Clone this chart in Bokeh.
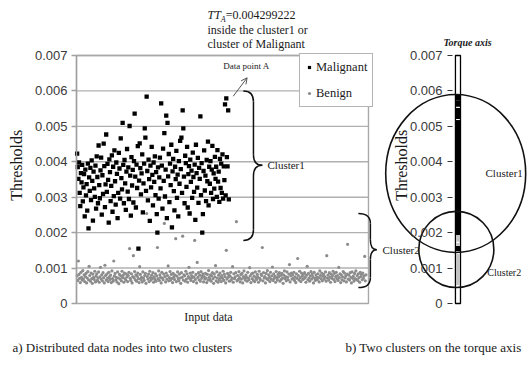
from bokeh.plotting import figure
from bokeh.models import (Range1d, LinearAxis, FixedTicker, CustomJSTickFormatter,
                          Label, Arrow, OpenHead, Legend, LegendItem)
from bokeh.embed import file_html
from bokeh.resources import INLINE
from math import pi

SERIF = "Liberation Serif"
SANS = "Liberation Sans"

# ---------------- data ----------------
y_ticks = [0, 0.001, 0.002, 0.003, 0.004, 0.005, 0.006, 0.007]
y_tick_labels = ["0", "0.001", "0.002", "0.003", "0.004", "0.005", "0.006", "0.007"]

malignant = [
    .00423, .00385, .00352, .00398, .00312, .00275, .00368, .00342, .00391, .00288,
    .00328, .00365, .00246, .00378, .00305, .00337, .00262, .00395, .00212, .00356,
    .00318, .00383, .00292, .00404, .00346, .00234, .00372, .00325, .00301, .00389,
    .00268, .00415, .00357, .00283, .00446, .00334, .00297, .00376, .00412, .00251,
    .00362, .00309, .00451, .00388, .00272, .00336, .00477, .00315, .00394, .00349,
    .00228, .00407, .00371, .00289, .00332, .00418, .00259, .00386, .00303, .00432,
    .00345, .00279, .00398, .00366, .00241, .00312, .00425, .00381, .00296, .00466,
    .00354, .00322, .00510, .00391, .00283, .00405, .00339, .00264, .00372, .00436,
    .00316, .00384, .00295, .00501, .00361, .00248, .00413, .00333, .00377, .00285,
    .00402, .00536, .00358, .00271, .00392, .00326, .00444, .00155, .00347, .00452,
    .00382, .00308, .00367, .00421, .00257, .00339, .00395, .00494, .00468, .00318,
    .00584, .00374, .00291, .00406, .00351, .00233, .00389, .00328, .00442, .00363,
    .00277, .00398, .00343, .00415, .00306, .00371, .00252, .00200, .00384, .00296,
    .00356, .00412, .00325, .00565, .00389, .00268, .00437, .00346, .00481, .00302,
    .00378, .00530, .00241, .00510, .00359, .00422, .00286, .00395, .00334, .00448,
    .00215, .00373, .00408, .00317, .00263, .00386, .00351, .00431, .00298, .00364,
    .00246, .00402, .00338, .00459, .00379, .00468, .00312, .00545, .00494, .00358,
    .00283, .00417, .00396, .00329, .00442, .00271, .00365, .00388, .00254, .00406,
    .00343, .00375, .00298, .00426, .00357, .00315, .00392, .00236, .00448, .00368,
    .00327, .00411, .00284, .00383, .00352, .00528, .00306, .00396, .00200, .00252,
    .00374, .00432, .00319, .00361, .00289, .00405, .00345, .00457, .00277, .00386,
    .00338, .00402, .00312, .00378, .00445, .00295, .00367, .00324, .00414, .00352,
    .00386, .00301, .00433, .00344, .00372, .00287, .00408, .00326, .00395, .00312,
    .00421, .00296, .00387, .00348, .00562, .00305, .00579, .00413, .00387, .00545, .00294,
]

benign = [
    .00078, .00065, .00120, .00082, .00071, .00059, .00088, .00074, .00066, .00093,
    .00069, .00081, .00062, .00076, .00085, .00058, .00072, .00090, .00067, .00105,
    .00079, .00063, .00086, .00070, .00057, .00083, .00074, .00068, .00091, .00061,
    .00077, .00084, .00065, .00072, .00089, .00060, .00075, .00102, .00069, .00081,
    .00064, .00087, .00073, .00058, .00108, .00079, .00066, .00083, .00071, .00062,
    .00088, .00075, .00068, .00080, .00059, .00092, .00070, .00063, .00120, .00077,
    .00085, .00067, .00074, .00061, .00089, .00072, .00056, .00082, .00069, .00078,
    .00064, .00091, .00073, .00080, .00060, .00086, .00070, .00066, .00083, .00075,
    .00062, .00079, .00088, .00155, .00071, .00065, .00084, .00058, .00076, .00135,
    .00073, .00090, .00067, .00081, .00063, .00077, .00086, .00070, .00059, .00104,
    .00082, .00068, .00074, .00061, .00089, .00072, .00065, .00079, .00085, .00057,
    .00254, .00076, .00069, .00083, .00062, .00091, .00073, .00066, .00080, .00071,
    .00087, .00060, .00075, .00068, .00084, .00063, .00078, .00158, .00070, .00092,
    .00065, .00081, .00074, .00058, .00088, .00072, .00067, .00083, .00226, .00076,
    .00061, .00086, .00069, .00079, .00106, .00064, .00073, .00090, .00066, .00082,
    .00071, .00059, .00085, .00075, .00068, .00080, .00183, .00062, .00077, .00089,
    .00070, .00064, .00083, .00072, .00057, .00087, .00074, .00190, .00066, .00081,
    .00078, .00063, .00091, .00069, .00084, .00060, .00076, .00102, .00071, .00086,
    .00065, .00079, .00073, .00088, .00062, .00075, .00178, .00068, .00082, .00058,
    .00116, .00074, .00087, .00067, .00080, .00063, .00090, .00071, .00077, .00084,
    .00061, .00076, .00069, .00085, .00072, .00059, .00082, .00066, .00093, .00074,
    .00068, .00081, .00063, .00078, .00087, .00070, .00057, .00084, .00075, .00107,
    .00064, .00089, .00072, .00060, .00080, .00067, .00086, .00073, .00062, .00079,
    .00071, .00091, .00065, .00083, .00076, .00058, .00150, .00069, .00085, .00074,
    .00081, .00063, .00077, .00088, .00066, .00072, .00104, .00060, .00084, .00070,
    .00075, .00087, .00231, .00064, .00079, .00068, .00090, .00073, .00061, .00082,
    .00069, .00085, .00058, .00076, .00092, .00071, .00066, .00080, .00074, .00063,
    .00088, .00072, .00067, .00101, .00078, .00059, .00084, .00070, .00086, .00065,
    .00077, .00062, .00089, .00073, .00068, .00082, .00075, .00060, .00091, .00071,
    .00066, .00083, .00079, .00158, .00064, .00087, .00072, .00076, .00058, .00085,
    .00070, .00093, .00067, .00081, .00074, .00062, .00088, .00069, .00078, .00103,
    .00065, .00084, .00071, .00077, .00060, .00090, .00073, .00066, .00082, .00075,
    .00087, .00063, .00079, .00068, .00085, .00072, .00057, .00080, .00092, .00070,
    .00076, .00064, .00089, .00074, .00067, .00083, .00110, .00061, .00078, .00086,
    .00069, .00081, .00072, .00088, .00065, .00075, .00059, .00084, .00071, .00127,
    .00079, .00066, .00091, .00073, .00062, .00086, .00077, .00068, .00082, .00070,
    .00087, .00074, .00060, .00080, .00105, .00067, .00085, .00072, .00063, .00078,
    .00090, .00069, .00083, .00076, .00058, .00088, .00071, .00065, .00081, .00074,
    .00067, .00084, .00073, .00061, .00092, .00079, .00070, .00086, .00064, .00077,
    .00082, .00069, .00075, .00089, .00063, .00135, .00072, .00080, .00066, .00087,
    .00074, .00060, .00083, .00071, .00078, .00091, .00068, .00085, .00062, .00076,
    .00088, .00070, .00079, .00065, .00102, .00073, .00084, .00059, .00081, .00067,
    .00075, .00090, .00064, .00086, .00072, .00078, .00061, .00083, .00167, .00069,
    .00080, .00066, .00087, .00074, .00058, .00089, .00071, .00077, .00063, .00085,
    .00070, .00092, .00068, .00079, .00065, .00084, .00073, .00060, .00088, .00076,
    .00082, .00067, .00086, .00071, .00078, .00133, .00064, .00081,
]

malignant_idx = list(range(1, len(malignant) + 1))
benign_idx = list(range(1, len(benign) + 1))

cluster_names = ["Cluster1", "Cluster2"]
cluster_low = [0.00144, 0.00045]
cluster_high = [0.00590, 0.00260]

# ---------------- layout constants (data units) ----------------
X_LEFT_END = 462          # end of the "Input data" axis (index units)
TORQUE_AXIS_X = 595       # location of the torque-axis threshold scale
BAR_X = 603.6             # torque bar centre
CLUSTER_CX = [600, 601]
CLUSTER_W = [221.5, 118.7]

p = figure(width=528, height=370,
           x_range=Range1d(-120.25, 715.2), y_range=Range1d(-0.001891, 0.008552),
           output_backend="svg", toolbar_location=None,
           x_axis_location=None, y_axis_location=None,
           min_border=0, outline_line_color=None)
p.xgrid.visible = False
p.ygrid.visible = False
p.background_fill_color = "white"
p.border_fill_color = "white"

fmt = CustomJSTickFormatter(args=dict(tvals=y_ticks, tlabs=y_tick_labels),
                            code="const i = tvals.findIndex(t => Math.abs(t - tick) < 1e-9);"
                                 "return i >= 0 ? tlabs[i] : '';")

# ---------------- panel a ----------------
p.segment(x0=0, y0=y_ticks[1:], x1=X_LEFT_END, y1=y_ticks[1:],
          line_color="#b0b0b0", line_width=1.4)
p.quad(left=0, right=X_LEFT_END, bottom=0, top=y_ticks[-1],
       fill_color=None, line_color="#a8a8a8", line_width=1.4)

ax1 = LinearAxis(fixed_location=0, ticker=FixedTicker(ticks=y_ticks), formatter=fmt,
                 bounds=(0, 0.007), axis_line_color="#a0a0a0", axis_line_width=1.4,
                 major_tick_out=5, major_tick_in=0, minor_tick_out=0, minor_tick_in=0,
                 major_tick_line_color="#a0a0a0", major_tick_line_width=1.4,
                 major_label_text_font=SANS, major_label_text_font_size="13px",
                 major_label_text_color="#3a3a3a", major_label_standoff=4)
p.add_layout(ax1, "left")

r_ben = p.scatter(benign_idx, benign, marker="circle", size=3.2,
                  fill_color="#8c8c8c", line_color=None)
r_mal = p.scatter(malignant_idx, malignant, marker="square", size=4.3,
                  fill_color="black", line_color=None)

legend = Legend(items=[LegendItem(label="Malignant", renderers=[r_mal]),
                       LegendItem(label="Benign", renderers=[r_ben])],
                location=(299, 263), margin=0, padding=5, spacing=10,
                glyph_width=8, glyph_height=16, label_height=16, label_standoff=3,
                label_text_font=SERIF, label_text_font_size="12.5px",
                label_text_color="#1a1a1a",
                border_line_color="#6a6a6a", border_line_width=1,
                background_fill_color="white", background_fill_alpha=1)
p.add_layout(legend)


def brace(x_end, x_mid, x_tip, y_top, y_bot, y_tip, ry):
    p.segment(x0=[x_mid, x_mid], y0=[y_top - ry, y_tip - ry],
              x1=[x_mid, x_mid], y1=[y_tip + ry, y_bot + ry],
              line_color="#111111", line_width=1.5)
    p.quadratic(x0=[x_end, x_mid, x_tip, x_mid], y0=[y_top, y_tip + ry, y_tip, y_bot + ry],
                x1=[x_mid, x_tip, x_mid, x_end], y1=[y_top - ry, y_tip, y_tip - ry, y_bot],
                cx=[x_mid, x_mid, x_mid, x_mid], cy=[y_top, y_tip, y_tip, y_bot],
                line_color="#111111", line_width=1.5)


brace(264, 280, 294, 0.0060, 0.00178, 0.0039, 0.0003)
brace(446, 465, 475, 0.00254, 0.00045, 0.00152, 0.00028)

p.add_layout(Arrow(x_start=248, y_start=0.00585, x_end=270, y_end=0.00637,
                   line_color="#555555", line_width=1,
                   end=OpenHead(size=6, line_color="#555555", line_width=1)))


def lab(text, x, y, size, font=SERIF, style="normal", align="left",
        baseline="middle", angle=0, color="#1a1a1a"):
    p.add_layout(Label(x=x, y=y, text=text, text_font=font, text_font_size=size,
                       text_font_style=style, text_align=align, text_baseline=baseline,
                       angle=angle, text_color=color))


lab("TT", 207.3, 0.00813, "12px", style="italic")
lab("A", 228.2, 0.00802, "8px", style="italic")
lab("=0.004299222", 236.0, 0.00813, "12px")
lab("inside the cluster1 or", 207.3, 0.007733, "12px")
lab("cluster of Malignant", 207.3, 0.007338, "12px")
lab("Data point A", 269, 0.006717, "9px", align="center")
lab(cluster_names[0], 302.2, 0.003895, "11px")
lab(cluster_names[1], 484.2, 0.001524, "11px")
lab("Input data", 208.9, -0.000395, "12px", align="center")
lab("Thresholds", -95.0, 0.0039, "16px", align="center", angle=pi / 2)
lab("a) Distributed data nodes into two clusters", -101.3, -0.001242, "13px")

# ---------------- panel b ----------------
ax2 = LinearAxis(fixed_location=TORQUE_AXIS_X, ticker=FixedTicker(ticks=y_ticks), formatter=fmt,
                 bounds=(0, 0.007), axis_line_color=None,
                 major_tick_out=5, major_tick_in=0, minor_tick_out=0, minor_tick_in=0,
                 major_tick_line_color="#333333", major_tick_line_width=1.2,
                 major_label_text_font=SANS, major_label_text_font_size="13px",
                 major_label_text_color="#3a3a3a", major_label_standoff=5)
p.add_layout(ax2, "left")

p.rect(x=BAR_X, y=y_ticks[-1] / 2, width=8, height=y_ticks[-1],
       fill_color="white", line_color="black", line_width=1.3)
p.rect(x=[BAR_X] * len(benign), y=benign, width=6, height=0.00008,
       fill_color="#c4c4c4", line_color=None)
p.rect(x=[BAR_X] * len(malignant), y=malignant, width=7, height=0.00014,
       fill_color="black", line_color=None)

p.ellipse(x=CLUSTER_CX,
          y=[(lo + hi) / 2 for lo, hi in zip(cluster_low, cluster_high)],
          width=CLUSTER_W,
          height=[hi - lo for lo, hi in zip(cluster_low, cluster_high)],
          fill_color=None, line_color="#111111", line_width=1.6)

lab("Torque axis", 618.7, 0.007367, "10px", style="bold italic", align="center")
lab(cluster_names[0], 647.2, 0.003697, "11px")
lab(cluster_names[1], 650.0, 0.000875, "10px")
lab("Thresholds", 514.2, 0.0039, "16px", align="center", angle=pi / 2)
lab("b) Two clusters on the torque axis", 425.6, -0.001242, "13px")

open("out.html", "w").write(file_html(p, INLINE))
